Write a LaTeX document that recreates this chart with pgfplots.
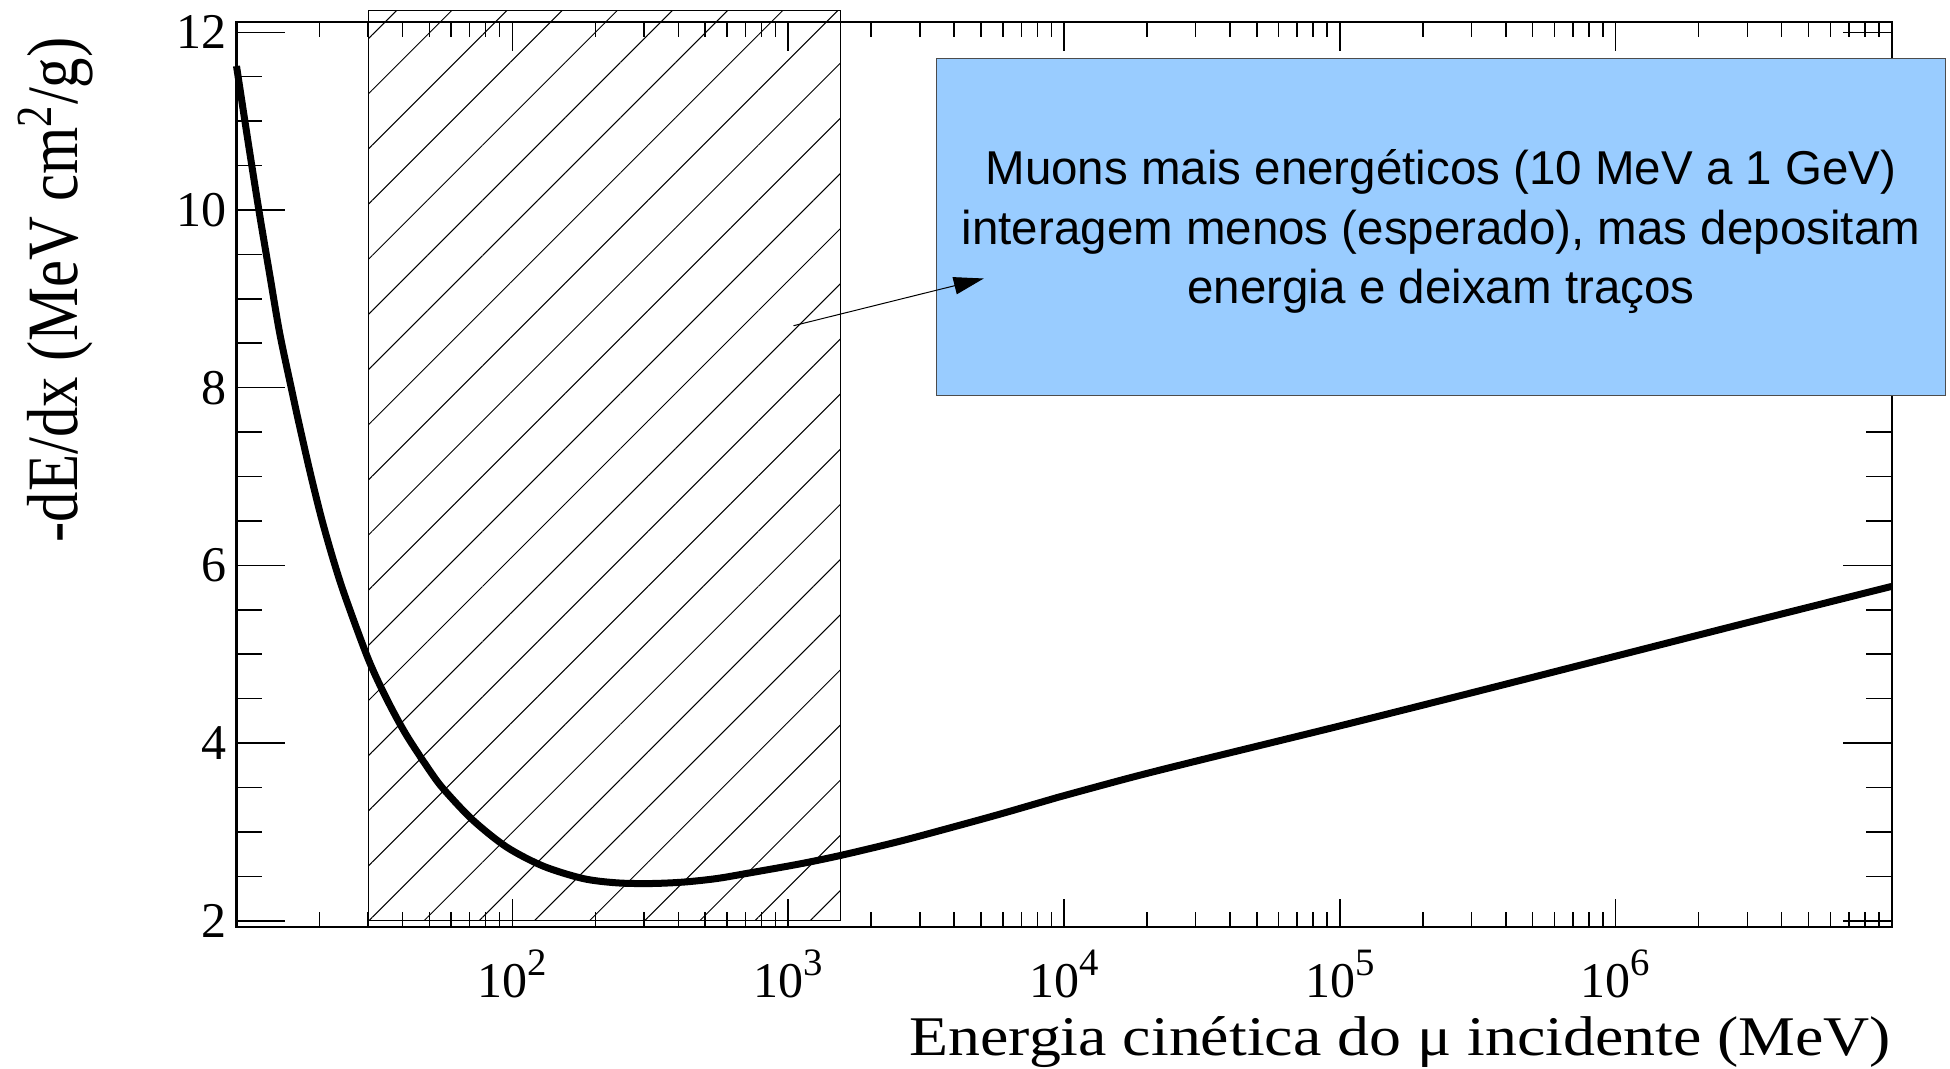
\documentclass[border=0pt]{standalone}
\usepackage{fontspec}
\setmainfont{Liberation Serif}
\newfontfamily\boxfont{Liberation Sans}
\usepackage{pgfplots}
\usepackage{pgfplotstable}
\pgfplotsset{compat=1.18}
\usetikzlibrary{patterns.meta, arrows.meta}
\definecolor{boxblue}{RGB}{153,204,255}
\newcommand{\tp}[1]{10\raisebox{9pt}{\fontsize{15.5}{15.5}\selectfont #1}}

\pgfplotstableread{
x y
10 11.62
11.0 10.78
12.08 9.98
13.2 9.27
14.35 8.61
15.84 7.98
16.73 7.64
18.45 7.06
20.33 6.53
22.4 6.07
24.7 5.66
30.0 4.95
35.0 4.50
41.3 4.09
51.6 3.635
57.7 3.445
72.1 3.13
95.3 2.83
129.4 2.615
180.7 2.475
238.8 2.427
315 2.419
416 2.435
550 2.475
726 2.539
1102 2.64
1562 2.738
2541 2.895
3857 3.045
5857 3.20
8892 3.363
10000 3.408
17783 3.618
31623 3.813
100000 4.193
316228 4.583
1000000 4.978
3162278 5.373
10000000 5.763
}\curve

\begin{document}
\begin{tikzpicture}
\begin{axis}[xmode=log,
  scale only axis, width=662pt, height=361.8pt,
  xmin=10, xmax=1e7, ymin=1.93, ymax=12.11,
  axis line style={line width=0.8pt},
  tick style={black, line width=0.6pt},
  tick align=inside,
  clip=false,
  xtick={100,1000,10000,100000,1000000},
  xticklabels={\tp{2},\tp{3},\tp{4},\tp{5},\tp{6}},
  minor xtick={20,30,40,50,60,70,80,90,200,300,400,500,600,700,800,900,2000,3000,4000,5000,6000,7000,8000,9000,20000,30000,40000,50000,60000,70000,80000,90000,200000,300000,400000,500000,600000,700000,800000,900000,2000000,3000000,4000000,5000000,6000000,7000000,8000000,9000000},
  xtick pos=both,
  major tick length=11.3pt, minor tick length=5.8pt,
  ytick=\empty,
  xticklabel style={font=\fontsize{20}{24}\selectfont, anchor=base, inner sep=0pt, yshift=-28.4pt},
  xlabel={\scalebox{1.14}[1]{Energia cinética do μ incidente (MeV)}},
  xlabel style={font=\fontsize{22.4}{26}\selectfont, at={(axis description cs:1,0)}, yshift=-51.5pt, anchor=base east, inner sep=0pt},
]
\draw[line width=0.4pt, pattern={Lines[angle=45,distance=15.6pt,line width=0.4pt]}] (axis cs:30,2) rectangle (axis cs:1550,12.24);
\addplot[black, line width=2.8pt, smooth] table[x=x,y=y] {\curve};
\end{axis}
\begin{axis}[xmode=log,
  scale only axis, width=662pt, height=361.8pt,
  xmin=10, xmax=1e7, ymin=1.93, ymax=12.11,
  axis line style={line width=0.8pt},
  tick style={black, line width=0.6pt},
  tick align=inside,
  xtick=\empty,
  ytick={2,4,6,8,10,12}, minor y tick num=3,
  ytick pos=both,
  major tick length=19.6pt, minor tick length=10.4pt,
  /pgf/number format/assume math mode=true,
  yticklabel style={font=\fontsize{20}{24}\selectfont, inner sep=0pt, xshift=-3.8pt},
  ylabel={\scalebox{1}[1.19]{-dE/dx (MeV cm\textsuperscript{2}/g)}},
  ylabel style={font=\fontsize{24.3}{29}\selectfont, at={(axis description cs:-0.0958,0.984)}, anchor=base east, inner sep=0pt},
]
\end{axis}
\draw[draw=gray!60!black, line width=0.5pt, fill=boxblue] (280pt,212.6pt) rectangle (683.6pt,347.4pt);
\node[font=\boxfont\fontsize{19}{23.8}\selectfont, align=center, inner sep=0pt] at (481.8pt,278pt) {Muons mais energéticos (10 MeV a 1 GeV)\\interagem menos (esperado), mas depositam\\energia e deixam traços};
\draw[-{Triangle[length=12pt,width=7pt]}, line width=0.4pt] (222.8pt,240.5pt) -- (298.9pt,259.4pt);
\pgfresetboundingbox
\useasboundingbox (-94.6pt,-56.8pt) rectangle (685.4pt,370.8pt);
\end{tikzpicture}
\end{document}
